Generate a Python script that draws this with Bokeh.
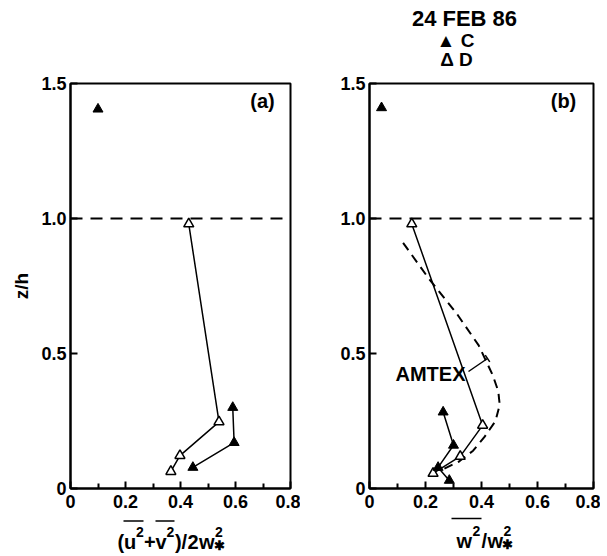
from bokeh.plotting import figure
from bokeh.models import Range1d, FixedTicker, Span, Arrow, TeeHead
from bokeh.layouts import row, column
from bokeh.core.properties import value
from bokeh.embed import file_html
from bokeh.resources import INLINE

# ---------------- data ----------------
x_ticks = [0, 0.2, 0.4, 0.6, 0.8]
x_minor = [0.1, 0.3, 0.5, 0.7]
x_tick_labels = ["0", "0.2", "0.4", "0.6", "0.8"]
y_ticks = [0, 0.5, 1.0, 1.5]
y_tick_labels = ["0", "0.5", "1.0", "1.5"]
mixed_layer_top = 1.0

# panel (a): (u'^2+v'^2)/2w*^2
a_C_x = [0.445, 0.595, 0.59]
a_C_y = [0.078, 0.17, 0.30]
a_C_iso_x = [0.10]
a_C_iso_y = [1.405]
a_D_x = [0.365, 0.398, 0.54, 0.43]
a_D_y = [0.063, 0.122, 0.247, 0.98]

# panel (b): w'^2/w*^2
b_C_x = [0.285, 0.245, 0.30, 0.263]
b_C_y = [0.03, 0.078, 0.16, 0.283]
b_C_iso_x = [0.043]
b_C_iso_y = [1.41]
b_D_x = [0.227, 0.324, 0.404, 0.151]
b_D_y = [0.056, 0.119, 0.234, 0.98]
amtex_x = [0.12, 0.21, 0.31, 0.39, 0.44, 0.46, 0.465, 0.45, 0.41, 0.37, 0.32, 0.26]
amtex_y = [0.91, 0.78, 0.65, 0.53, 0.42, 0.36, 0.31, 0.25, 0.19, 0.14, 0.10, 0.07]

FONT = "Liberation Sans"

# page geometry (absolute px, page content starts at 0,0)
FRAME_TOP, FRAME_BOTTOM = 83, 488
AXIS_H = 28
LABEL_TOP = FRAME_BOTTOM + AXIS_H
BOTTOM = 554
TITLE_H = 72
A_FIG_L, A_FIG_R, A_LEFT, A_RIGHT = 0, 300, 70, 290
B_FIG_L, B_FIG_R, B_LEFT, B_RIGHT = 300, 600, 369, 593


def ya(py):
    return (FRAME_BOTTOM - py) / (FRAME_BOTTOM - FRAME_TOP) * 1.5


def xa(px):
    return (px - A_LEFT) / (A_RIGHT - A_LEFT) * 0.8


def xb(px):
    return (px - B_LEFT) / (B_RIGHT - B_LEFT) * 0.8


def make_fig(fig_l, fig_r, left, right, border_top, ylabel):
    p = figure(width=fig_r - fig_l, height=border_top + (FRAME_BOTTOM - FRAME_TOP) + AXIS_H,
               output_backend="svg", toolbar_location=None,
               x_range=Range1d(0, 0.8), y_range=Range1d(0, 1.5),
               min_border_left=left - fig_l, min_border_right=fig_r - right,
               min_border_top=border_top, min_border_bottom=AXIS_H)
    p.grid.visible = False
    p.outline_line_color = "black"
    p.outline_line_width = 2
    p.outline_line_alpha = 1
    p.xaxis.ticker = FixedTicker(ticks=x_ticks, minor_ticks=x_minor)
    p.yaxis.ticker = FixedTicker(ticks=y_ticks, minor_ticks=[])
    p.xaxis.major_label_overrides = dict(zip(x_ticks, x_tick_labels))
    p.yaxis.major_label_overrides = dict(zip(y_ticks, y_tick_labels))
    for ax in (p.xaxis[0], p.yaxis[0]):
        ax.axis_line_width = 2
        ax.axis_line_color = "black"
        ax.major_tick_in = 7
        ax.major_tick_out = 0
        ax.minor_tick_in = 5
        ax.minor_tick_out = 0
        ax.major_tick_line_width = 2
        ax.minor_tick_line_width = 2
        ax.major_label_text_font = FONT
        ax.major_label_text_font_size = "18px"
        ax.major_label_text_font_style = "bold"
        ax.major_label_text_color = "black"
    p.xaxis.major_label_standoff = 6
    p.yaxis.major_label_standoff = 4
    if ylabel:
        p.yaxis.axis_label = ylabel
        p.yaxis.axis_label_text_font = FONT
        p.yaxis.axis_label_text_font_size = "19px"
        p.yaxis.axis_label_text_font_style = "bold"
        p.yaxis.axis_label_text_color = "black"
        p.yaxis.axis_label_standoff = 6
    p.add_layout(Span(location=mixed_layer_top, dimension="width", line_color="black",
                      line_width=2, line_dash="12 8"))
    return p


def blank_fig(fig_l, fig_r, left, right, top, bottom):
    p = figure(width=fig_r - fig_l, height=bottom - top, output_backend="svg",
               toolbar_location=None,
               x_range=Range1d(0, 0.8), y_range=Range1d(bottom, top),
               x_axis_type=None, y_axis_type=None,
               min_border_left=left - fig_l, min_border_right=fig_r - right,
               min_border_top=0, min_border_bottom=0)
    p.grid.visible = False
    p.outline_line_color = None
    return p


def txt(p, xs, ys, ss, size="20px", align="left", baseline="alphabetic"):
    p.text(x=xs, y=ys, text=ss, text_font=value(FONT), text_font_size=value(size),
           text_font_style=value("bold"), text_align=value(align),
           text_baseline=value(baseline), text_color="black")


def series(p, cx, cy, cix, ciy, dx, dy):
    p.line(dx, dy, line_color="black", line_width=1.5)
    p.line(cx, cy, line_color="black", line_width=1.5)
    p.scatter(dx, dy, marker="triangle", size=10, fill_color="white",
              line_color="black", line_width=1.5)
    p.scatter(cx, cy, marker="triangle", size=10, fill_color="black",
              line_color="black", line_width=1)
    p.scatter(cix, ciy, marker="triangle", size=10, fill_color="black",
              line_color="black", line_width=1)


# ---------------- panel (a) ----------------
pa = make_fig(A_FIG_L, A_FIG_R, A_LEFT, A_RIGHT, FRAME_TOP, "z/h")
series(pa, a_C_x, a_C_y, a_C_iso_x, a_C_iso_y, a_D_x, a_D_y)
txt(pa, [xa(262)], [ya(100)], ["(a)"], size="20px", align="center", baseline="middle")

la = blank_fig(A_FIG_L, A_FIG_R, A_LEFT, A_RIGHT, LABEL_TOP, BOTTOM)
# x label: (u'^2 + v'^2)/2w*^2
txt(la, [xa(117), xa(123.5), xa(143.5), xa(155), xa(174.5), xa(181), xa(187), xa(198.5)],
    [541] * 8, ["(", "u", "+", "v", ")", "/", "2", "w"])
txt(la, [xa(135.5), xa(166), xa(214.5)], [531] * 3, ["2", "2", "2"], size="14px")
txt(la, [xa(219)], [545], ["\u2731"], size="13px", align="center", baseline="middle")
la.segment(x0=[xa(123), xa(155)], y0=[520.5, 520.5], x1=[xa(143), xa(174)],
           y1=[520.5, 520.5], line_color="black", line_width=1.5)

# ---------------- panel (b) ----------------
tb = blank_fig(B_FIG_L, B_FIG_R, B_LEFT, B_RIGHT, 0, TITLE_H)
txt(tb, [xb(464)], [18], ["24 FEB 86"], size="22px", align="center", baseline="middle")
txt(tb, [xb(455), xb(456)], [40, 59], ["\u25B2 C", "\u0394 D"], size="19px",
    align="center", baseline="middle")

pb = make_fig(B_FIG_L, B_FIG_R, B_LEFT, B_RIGHT, FRAME_TOP - TITLE_H, None)
pb.line(amtex_x, amtex_y, line_color="black", line_width=2, line_dash="9 6")
series(pb, b_C_x, b_C_y, b_C_iso_x, b_C_iso_y, b_D_x, b_D_y)
txt(pb, [xb(563)], [ya(100)], ["(b)"], size="20px", align="center", baseline="middle")
txt(pb, [xb(395)], [ya(373)], ["AMTEX"], size="20px", align="left", baseline="middle")
pb.add_layout(Arrow(x_start=xb(468), y_start=ya(371), x_end=xb(487), y_end=ya(358),
                    start=None, end=TeeHead(size=8, line_width=1.5),
                    line_color="black", line_width=1.5))

lb = blank_fig(B_FIG_L, B_FIG_R, B_LEFT, B_RIGHT, LABEL_TOP, BOTTOM)
# x label: w'^2/w*^2
txt(lb, [xb(456), xb(481), xb(487)], [540] * 3, ["w", "/", "w"])
txt(lb, [xb(472), xb(503)], [530, 530], ["2", "2"], size="14px")
txt(lb, [xb(507)], [544], ["\u2731"], size="13px", align="center", baseline="middle")
lb.segment(x0=[xb(451)], y0=[518], x1=[xb(481)], y1=[518], line_color="black",
           line_width=1.5)

layout = row(column(pa, la), column(tb, pb, lb))
open("out.html", "w").write(file_html(layout, INLINE))
